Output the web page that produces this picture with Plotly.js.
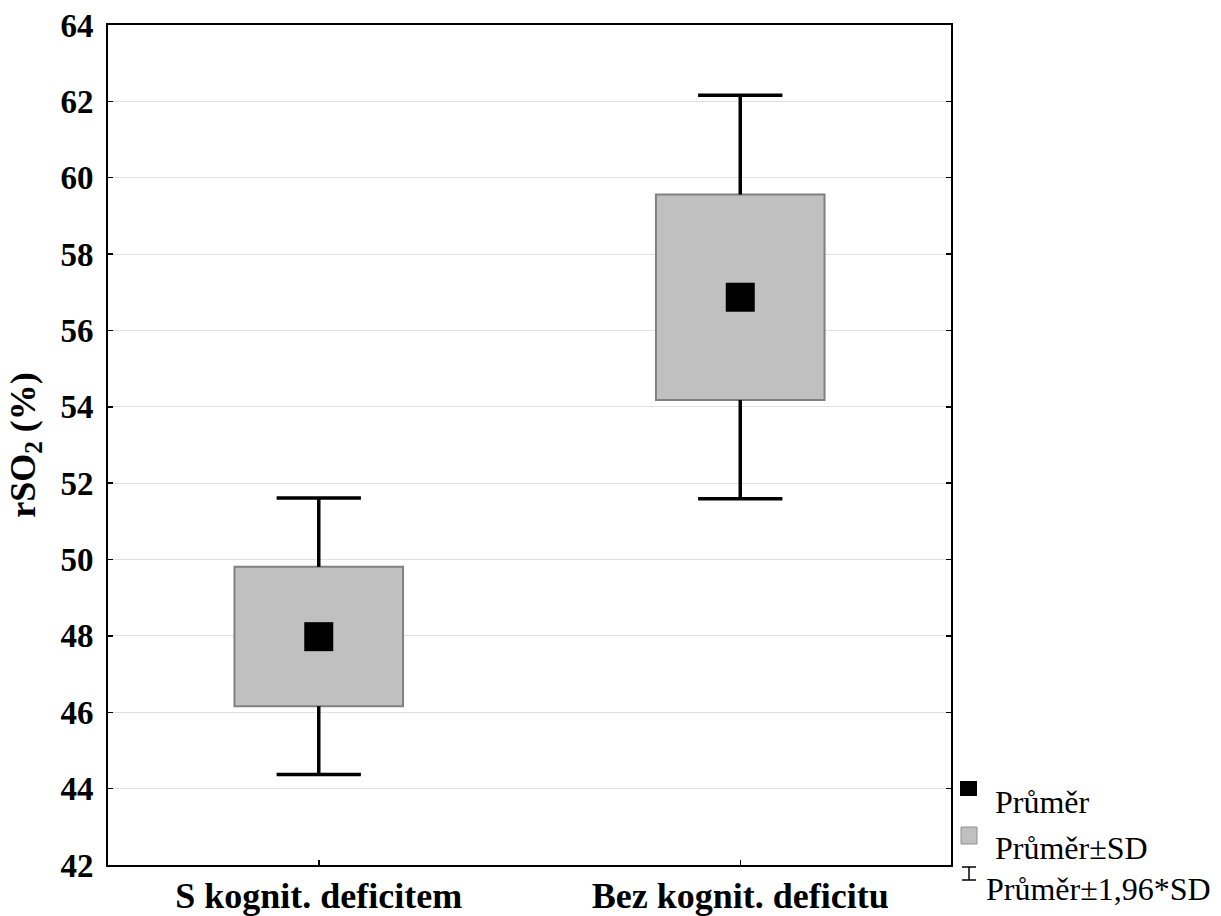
<!DOCTYPE html>
<html>
<head>
<meta charset="utf-8">
<script src="https://cdn.plot.ly/plotly-3.0.1.min.js"></script>
<style>html,body{margin:0;padding:0;background:#fff;}</style>
</head>
<body>
<div id="chart" style="width:1221px;height:916px;"></div>
<script>
// ---- data ----
const categories = ['S kognit. deficitem', 'Bez kognit. deficitu'];
const catPos = [0, 1];
const means = [47.98, 56.87];          // Průměr
const sdLow = [46.16, 54.18];          // Průměr - SD
const sdHigh = [49.81, 59.56];         // Průměr + SD
const ciLow = [44.37, 51.59];          // Průměr - 1,96*SD
const ciHigh = [51.61, 62.16];         // Průměr + 1,96*SD
const yTicks = [42, 44, 46, 48, 50, 52, 54, 56, 58, 60, 62, 64];
const legendLabels = ['Průměr', 'Průměr±SD', 'Průměr±1,96*SD'];

const FONT = '"Liberation Serif", "Times New Roman", serif';
const capHalf = 0.1;

// whisker segments built from data
const wx = [], wy = [];
catPos.forEach((p, i) => {
  wx.push(p, p, null, p - capHalf, p + capHalf, null);
  wy.push(sdHigh[i], ciHigh[i], null, ciHigh[i], ciHigh[i], null);
  wx.push(p, p, null, p - capHalf, p + capHalf, null);
  wy.push(sdLow[i], ciLow[i], null, ciLow[i], ciLow[i], null);
});

const traces = [
  {
    type: 'bar', x: catPos, base: sdLow,
    y: sdHigh.map((h, i) => h - sdLow[i]),
    width: 0.4,
    marker: {color: '#c0c0c0', line: {color: '#808080', width: 2}},
    showlegend: false, hoverinfo: 'skip'
  },
  {
    type: 'scatter', mode: 'lines', x: wx, y: wy,
    line: {color: '#000', width: 3.5},
    showlegend: false, hoverinfo: 'skip'
  },
  {
    type: 'scatter', mode: 'markers', x: catPos, y: means,
    marker: {symbol: 'square', size: 29, color: '#000', line: {width: 0}},
    showlegend: false
  }
];

// plot area in pixels: x 108..951, y 25..865
const PL = 108, PR = 951, PT = 25, PB = 865;
const px = v => (v - PL) / (PR - PL);
const py = v => (PB - v) / (PB - PT);

const ib = {x0: px(962), x1: px(976), xm: px(969), yt: py(867), yb: py(880)};
const shapes = [
  {type: 'rect', xref: 'paper', yref: 'paper', x0: px(960), x1: px(977), y0: py(796), y1: py(781),
   fillcolor: '#000', line: {width: 0}},
  {type: 'rect', xref: 'paper', yref: 'paper', x0: px(961), x1: px(977), y0: py(844), y1: py(827),
   fillcolor: '#c0c0c0', line: {color: '#909090', width: 1}},
  {type: 'line', xref: 'paper', yref: 'paper', x0: ib.xm, x1: ib.xm, y0: ib.yt, y1: ib.yb, line: {color: '#000', width: 1.5}},
  {type: 'line', xref: 'paper', yref: 'paper', x0: ib.x0, x1: ib.x1, y0: ib.yt, y1: ib.yt, line: {color: '#000', width: 1.5}},
  {type: 'line', xref: 'paper', yref: 'paper', x0: ib.x0, x1: ib.x1, y0: ib.yb, y1: ib.yb, line: {color: '#000', width: 1.5}}
];

const legFont = {family: FONT, size: 32, color: '#000'};
const annotations = [
  {xref: 'paper', yref: 'paper', x: px(993), y: py(802), xanchor: 'left', yanchor: 'middle',
   text: legendLabels[0], showarrow: false, font: legFont},
  {xref: 'paper', yref: 'paper', x: px(993), y: py(848), xanchor: 'left', yanchor: 'middle',
   text: legendLabels[1], showarrow: false, font: legFont},
  {xref: 'paper', yref: 'paper', x: px(984), y: py(889), xanchor: 'left', yanchor: 'middle',
   text: legendLabels[2], showarrow: false, font: legFont}
];

const layout = {
  width: 1221, height: 916,
  margin: {l: PL, r: 1221 - PR, t: PT, b: 916 - PB},
  paper_bgcolor: '#fff', plot_bgcolor: '#fff',
  showlegend: false,
  font: {family: FONT, color: '#000'},
  xaxis: {
    range: [-0.5, 1.5], tickvals: catPos, ticktext: categories,
    showgrid: false, zeroline: false,
    showline: true, linecolor: '#000', linewidth: 2, mirror: true,
    ticks: 'inside', ticklen: 5, tickwidth: 1.5, tickcolor: '#000',
    tickfont: {family: FONT, size: 36, weight: 'bold', color: '#000'},
    ticklabelstandoff: -2,
    fixedrange: true
  },
  yaxis: {
    range: [42, 64], tickvals: yTicks,
    showgrid: true, gridcolor: '#e0e0e0', gridwidth: 1, zeroline: false,
    showline: true, linecolor: '#000', linewidth: 2, mirror: 'ticks',
    ticks: 'inside', ticklen: 5, tickwidth: 1.5, tickcolor: '#000',
    tickfont: {family: FONT, size: 33, weight: 'bold', color: '#000'},
    ticklabelstandoff: 6,
    title: {text: 'rSO<sub>2</sub> (%)', font: {family: FONT, size: 36, weight: 'bold', color: '#000'}, standoff: 14},
    fixedrange: true
  },
  shapes: shapes,
  annotations: annotations
};

Plotly.newPlot('chart', traces, layout, {displayModeBar: false, staticPlot: true});
</script>
</body>
</html>
